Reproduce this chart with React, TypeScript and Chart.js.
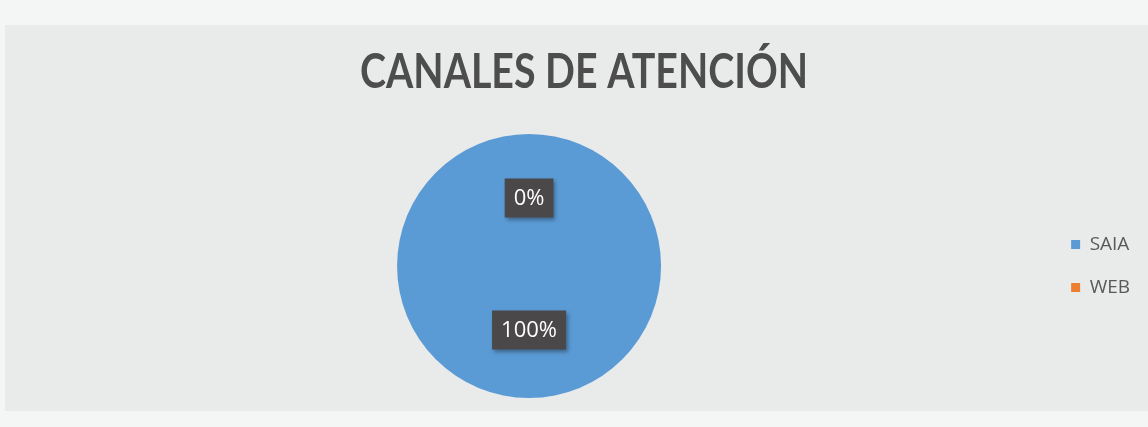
import { useEffect, useRef } from "react";
import { Chart, registerables } from "chart.js";

Chart.register(...registerables);

const categories = ["SAIA", "WEB"];
const values = [100, 0];
const sliceColors = ["#5b9bd5", "#ed7d31"];
const chartTitle = "CANALES DE ATENCIÓN";

const sliceLabelPlugin = {
  id: "sliceLabels",
  afterDatasetsDraw(chart: any) {
    const ctx = chart.ctx as CanvasRenderingContext2D;
    const meta = chart.getDatasetMeta(0);
    const data = chart.data.datasets[0].data as number[];
    const total = data.reduce((a, b) => a + b, 0);
    ctx.save();
    ctx.font = "22px 'Open Sans'";
    ctx.textAlign = "center";
    ctx.textBaseline = "middle";
    meta.data.forEach((arc: any, i: number) => {
      const { x, y } = arc.getCenterPoint();
      const txt = Math.round((data[i] / total) * 100) + "%";
      const w = ctx.measureText(txt).width + 18;
      const h = 39;
      ctx.shadowColor = "rgba(0,0,0,0.35)";
      ctx.shadowBlur = 4;
      ctx.shadowOffsetX = 2;
      ctx.shadowOffsetY = 2;
      ctx.fillStyle = "#4a4848";
      ctx.fillRect(x - w / 2, y - h / 2 - 2, w, h);
      ctx.shadowColor = "transparent";
      ctx.fillStyle = "#ffffff";
      ctx.fillText(txt, x, y - 1);
    });
    ctx.restore();
  },
};

// Title drawn in a slightly condensed bold face (Calibri-like proportions)
const titlePlugin = {
  id: "condensedTitle",
  afterDraw(chart: any) {
    const ctx = chart.ctx as CanvasRenderingContext2D;
    ctx.save();
    ctx.font = "bold 48px Lato";
    const w = ctx.measureText(chartTitle).width;
    const s = 448 / w;
    ctx.translate(chart.width / 2 + 10, 88);
    ctx.scale(s, 1);
    ctx.textAlign = "center";
    ctx.textBaseline = "alphabetic";
    ctx.fillStyle = "#4d4d4d";
    ctx.fillText(chartTitle, 0, 0);
    ctx.restore();
  },
};

export default function App() {
  const ref = useRef<HTMLCanvasElement | null>(null);
  useEffect(() => {
    if (!ref.current) return;
    const chart = new Chart(ref.current, {
      type: "pie",
      data: {
        labels: categories,
        datasets: [
          {
            data: values,
            backgroundColor: sliceColors,
            borderWidth: 0,
          },
        ],
      },
      options: {
        animation: false,
        responsive: false,
        layout: { padding: { left: 11, right: 8, top: 134, bottom: 29 } },
        plugins: {
          title: { display: false },
          legend: {
            position: "right",
            fullSize: false,
            labels: {
              boxWidth: 9,
              boxHeight: 9,
              padding: 24,
              color: "#595959",
              font: { family: "'Open Sans'", size: 19 },
            },
          },
          tooltip: { enabled: false },
        },
      },
      plugins: [sliceLabelPlugin, titlePlugin],
    });
    return () => chart.destroy();
  }, []);
  return (
    <div style={{ position: "fixed", left: 0, top: 0, width: 1148, height: 427, background: "#f4f5f5" }}>
      <div style={{ position: "absolute", left: 5, top: 25, width: 1143, height: 386, background: "#e9ebeb" }} />
      <canvas ref={ref} width={1148} height={427} style={{ position: "absolute", left: 0, top: 0 }} />
    </div>
  );
}
